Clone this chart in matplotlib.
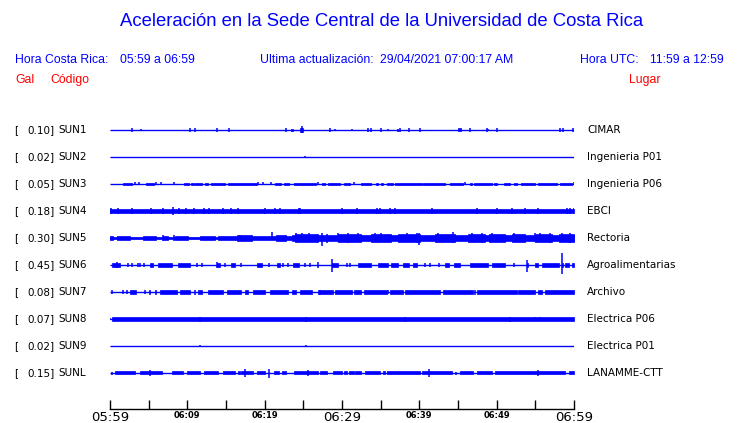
import matplotlib
matplotlib.use('Agg')
import matplotlib.pyplot as plt
from matplotlib.transforms import blended_transform_factory

BLUE = '#0000ff'
RED = '#ff0000'

codes = ['SUN1', 'SUN2', 'SUN3', 'SUN4', 'SUN5', 'SUN6', 'SUN7', 'SUN8', 'SUN9', 'SUNL']
gal = [0.10, 0.02, 0.05, 0.18, 0.30, 0.45, 0.08, 0.07, 0.02, 0.15]
places = ['CIMAR', 'Ingenieria P01', 'Ingenieria P06', 'EBCI', 'Rectoria',
          'Agroalimentarias', 'Archivo', 'Electrica P06', 'Electrica P01', 'LANAMME-CTT']

# time axis: minutes after 05:59
tick_min = [0, 5, 10, 15, 20, 25, 30, 35, 40, 45, 50, 55, 60]
tick_lbl = {0: '05:59', 10: '06:09', 20: '06:19', 30: '06:29', 40: '06:39', 50: '06:49', 60: '06:59'}

# bursts: (start min, end min, half amplitude px) ; spikes: (min, up px, down px)
sun1_bursts = [(23.4, 23.6, 1.0), (24.6, 25.0, 2.0), (45.0, 45.4, 1.5)]
sun1_spikes = [(2.9, 1.8, 1.8), (4.0, 1, 0.5), (10.4, 1.8, 1.8), (11.0, 1.8, 1.8), (13.9, 1.8, 1.8),
               (15.4, 1.8, 1.8), (22.8, 1.8, 1.8), (24.8, 3.5, 3.5), (28.5, 1.8, 1.8), (29.1, 1, 0),
               (31.3, 1, 0), (33.3, 1.8, 1.8), (33.8, 1.8, 1.8), (35.1, 1.8, 1.8), (35.9, 1, 1),
               (37.2, 0.5, 2), (37.5, 1.8, 1.8), (38.7, 1.8, 1.8), (40.1, 1.8, 1.8), (46.6, 1.8, 1.8),
               (48.7, 1.8, 1.8), (48.9, 1, 1), (50.0, 1.8, 1.8), (58.2, 1.8, 1.8), (58.6, 1.8, 1.8),
               (59.9, 1.8, 1.8)]

sun2_bursts = []
sun2_spikes = [(25.2, 1.0, 0.0)]

sun3_bursts = [(1.7, 2.9, 1.2), (4.7, 5.7, 1.2), (9.6, 10.2, 1.2), (10.5, 10.8, 1.2), (11.0, 11.9, 1.2),
               (12.3, 12.7, 1.2), (13.1, 14.9, 1.2), (15.2, 19.0, 1.2), (21.3, 22.1, 1.2), (22.5, 23.2, 1.2),
               (23.8, 26.6, 1.2), (27.4, 27.8, 1.2), (28.2, 29.7, 1.2), (30.3, 31.0, 1.2), (32.5, 33.8, 1.2),
               (34.4, 34.6, 1.2), (35.0, 35.3, 1.2), (35.8, 36.6, 1.2), (36.9, 40.3, 1.2), (40.5, 43.3, 1.2),
               (44.0, 45.6, 1.2), (46.6, 46.8, 1.2), (47.1, 49.4, 1.2), (49.7, 50.1, 1.2), (50.9, 51.7, 1.2),
               (52.3, 52.6, 1.2), (53.2, 55.0, 1.2), (55.4, 57.8, 1.2), (58.2, 59.7, 1.2)]
sun3_spikes = [(3.2, 1.5, 1.5), (3.7, 1.5, 1.5), (6.0, 1.5, 1.5), (6.6, 1.5, 1.5), (8.3, 1.5, 1.5),
               (19.2, 1.5, 1.5), (19.8, 1.5, 1.5), (20.8, 1.5, 1.5), (26.9, 1.5, 1.5), (31.5, 1.5, 1.5),
               (45.9, 1.5, 1.5), (60.0, 1.5, 1.5)]

sun4_bursts = [(0.0, 60.0, 1.7)]
sun4_spikes = [(0.1, 3, 3), (1.0, 3, 3), (2.8, 3, 3), (5.3, 3, 3), (6.8, 3, 3),
               (8.2, 3.5, 4.5), (8.9, 3, 3), (9.8, 3, 3), (10.9, 3, 3), (12.2, 3, 3),
               (12.8, 3, 3), (14.6, 3, 3), (15.7, 3, 3), (16.5, 3, 3), (20.0, 3, 3),
               (21.3, 3, 3), (22.0, 3, 3), (24.4, 3, 3), (24.6, 3, 3), (30.0, 3, 3),
               (32.0, 3.3, 3.3), (34.5, 3.3, 3.3), (34.9, 3, 3), (36.2, 3, 3), (36.9, 3, 3),
               (41.7, 3, 3), (47.4, 3, 3), (50.0, 3, 3), (52.0, 3, 3), (53.7, 3, 3),
               (55.3, 3, 3), (59.1, 3, 3), (59.5, 3, 3), (60.0, 3, 3)]

sun5_bursts = [(0.0, 16.2, 1.3), (0.0, 0.4, 2.0), (0.9, 2.6, 2.0), (4.3, 6.0, 2.0), (6.9, 7.5, 2.0),
               (8.4, 10.1, 2.0), (11.6, 13.6, 2.0), (14.0, 16.2, 2.0), (16.2, 23.5, 2.0),
               (16.4, 18.3, 2.7), (21.5, 22.8, 2.7), (23.5, 60.0, 3.0),
               (23.9, 26.9, 3.8), (29.5, 32.5, 4.0), (33.8, 36.4, 3.8), (37.3, 40.1, 3.8),
               (42.0, 44.6, 3.8), (46.3, 48.5, 4.0), (49.0, 51.1, 3.8), (52.0, 53.7, 3.8),
               (55.0, 57.1, 3.8), (58.0, 60.0, 4.0)]
sun5_spikes = [(6.9, 2.7, 2.7), (8.3, 2.7, 2.7), (16.8, 2.7, 2.7), (20.9, 6.0, 2.5), (24.1, 4.5, 4.5),
               (24.8, 4.5, 4.5), (25.7, 4.5, 4.5), (27.4, 5.0, 8.0), (28.0, 4.0, 5.0), (29.5, 4.5, 4.5),
               (30.8, 5.0, 5.0), (32.1, 4.5, 4.5), (34.3, 4.5, 4.5), (35.1, 4.5, 4.5), (38.4, 4.5, 4.5),
               (39.7, 5.0, 5.0), (39.9, 5.0, 6.7), (42.4, 4.5, 4.5), (44.4, 5.5, 5.5), (46.8, 4.5, 4.5),
               (48.1, 5.0, 5.0), (49.4, 4.5, 4.5), (52.2, 4.5, 4.5), (55.0, 4.5, 4.5), (55.6, 4.5, 4.5),
               (56.9, 5.0, 5.0), (58.4, 4.5, 4.5), (59.5, 5.0, 5.0)]

sun6_bursts = [(0.2, 1.3, 2.0), (5.2, 5.6, 2.0), (6.25, 8.0, 2.0), (8.8, 10.3, 2.0), (13.9, 14.2, 2.0),
               (15.7, 16.1, 2.0), (19.0, 19.6, 2.0), (21.6, 22.0, 2.0), (23.7, 24.4, 2.0), (28.7, 29.5, 2.0),
               (32.1, 33.8, 2.0), (34.7, 36.0, 2.0), (36.4, 37.3, 2.0), (37.9, 38.6, 2.0), (39.2, 39.7, 2.0),
               (43.3, 43.8, 2.0), (44.5, 45.3, 2.0), (46.6, 48.9, 2.0), (49.4, 51.1, 2.0), (53.9, 54.1, 2.0),
               (55.0, 55.4, 2.0), (55.8, 58.0, 2.0), (58.4, 58.6, 2.0), (58.8, 59.3, 2.0), (59.7, 60.0, 2.0)]
sun6_spikes = [(0.85, 3.0, 3.0), (2.3, 2, 2), (2.8, 2, 2), (3.6, 2, 2), (3.9, 2, 2), (4.4, 2, 2),
               (11.2, 2, 2), (11.9, 2, 2), (13.9, 3.0, 3.0), (14.9, 2, 2), (17.0, 2, 2), (20.5, 2, 2),
               (22.4, 2, 2), (23.0, 2, 2), (25.2, 2, 2), (25.9, 2, 2), (26.9, 3.0, 3.0), (28.7, 6.0, 6.7),
               (30.6, 2, 2), (31.0, 2, 2), (40.7, 2, 2), (41.4, 2, 2), (42.5, 2, 2), (52.2, 2, 2),
               (53.9, 5.0, 6.7), (58.5, 12.0, 9.0)]

sun7_bursts = [(2.6, 3.4, 1.7), (5.0, 5.2, 1.7), (5.8, 6.0, 1.7), (6.5, 8.6, 1.7), (9.05, 10.3, 1.7),
               (11.4, 11.85, 1.7), (12.7, 14.65, 1.7), (15.1, 17.0, 1.7), (17.5, 17.9, 1.7), (18.5, 20.0, 1.7),
               (20.7, 23.05, 1.7), (23.5, 24.1, 1.7), (24.6, 26.1, 1.7), (26.9, 28.9, 1.7), (29.1, 31.25, 1.7),
               (31.5, 32.5, 1.7), (32.8, 35.8, 1.7), (36.2, 37.9, 1.7), (38.1, 42.7, 1.7), (43.0, 47.0, 1.7),
               (47.4, 52.6, 1.7), (52.8, 55.0, 1.7), (55.3, 55.8, 1.7), (56.25, 60.0, 1.7)]
sun7_spikes = [(0.2, 1.7, 1.7), (1.7, 1.7, 1.7), (2.2, 1.7, 1.7), (4.5, 1.7, 1.7), (11.0, 2.5, 2.5),
               (27.1, 2.5, 2.5), (36.0, 2.2, 2.2), (47.2, 2.5, 2.5)]

sun8_bursts = [(0.3, 60.0, 1.7)]
sun8_spikes = [(0.0, 1.0, 1.0), (11.7, 1.7, 2.7), (25.4, 2.5, 2.5), (38.1, 1.7, 2.7), (51.7, 2.5, 2.5),
               (54.9, 2.5, 1.7), (55.6, 2.5, 1.7)]

sun9_bursts = []
sun9_spikes = [(11.6, 1.0, 0.0), (25.3, 0.8, 0.8)]

sunl_bursts = [(0.65, 3.2, 1.5), (3.9, 6.7, 1.5), (8.0, 9.5, 1.5), (9.9, 11.6, 1.5), (12.1, 14.0, 1.5),
               (14.65, 16.2, 1.5), (16.5, 16.8, 1.5), (17.0, 18.5, 1.5), (19.0, 20.0, 1.5), (21.25, 21.8, 1.5),
               (22.2, 22.8, 1.5), (23.8, 26.9, 1.5), (27.15, 28.0, 1.5), (28.9, 29.95, 1.5), (30.3, 30.6, 1.5),
               (30.95, 31.5, 1.5), (31.7, 32.5, 1.5), (33.0, 34.9, 1.5), (35.3, 35.6, 1.5), (35.8, 40.1, 1.5),
               (40.3, 44.2, 1.5), (45.3, 47.0, 1.5), (47.4, 49.35, 1.5), (49.8, 58.8, 1.5), (59.3, 60.0, 1.5)]
sunl_spikes = [(0.2, 1.5, 1.5), (5.2, 2.5, 2.5), (17.5, 4.0, 4.3), (20.5, 4.5, 4.5), (25.6, 3.3, 3.3),
               (41.2, 3.7, 3.7), (44.8, 1.5, 1.5), (55.4, 2.7, 2.7)]

bursts = [sun1_bursts, sun2_bursts, sun3_bursts, sun4_bursts, sun5_bursts,
          sun6_bursts, sun7_bursts, sun8_bursts, sun9_bursts, sunl_bursts]
spikes = [sun1_spikes, sun2_spikes, sun3_spikes, sun4_spikes, sun5_spikes,
          sun6_spikes, sun7_spikes, sun8_spikes, sun9_spikes, sunl_spikes]

W, H = 740, 423
PX = 1 / 27.0  # one pixel in trace units (traces are 27 px apart)

fig = plt.figure(figsize=(W / 100, H / 100), dpi=100)
ax = fig.add_axes([110 / W, 14 / H, 464 / W, (409 - 108.4) / H])

for i in range(len(codes)):
    ax.hlines(i, 0, 60, color=BLUE, lw=1)
    for s, e, a in bursts[i]:
        ax.fill_between([s, max(e, s + 0.13)], i - a * PX, i + a * PX,
                        color=BLUE, lw=0.5, edgecolor=BLUE)
    for t, up, dn in spikes[i]:
        ax.vlines(t, i - up * PX, i + dn * PX, color=BLUE, lw=1.1)

ax.set_xlim(0, 60)
ax.set_ylim(9 + 36 * PX, -0.8)
for side in ['top', 'left', 'right']:
    ax.spines[side].set_visible(False)
ax.spines['bottom'].set_linewidth(1)
ax.set_yticks([])
ax.set_xticks(tick_min)
ax.set_xticklabels([tick_lbl.get(m, '') for m in tick_min])
ax.tick_params(axis='x', direction='in', length=6.5, width=1, pad=1.5)
for m, lab in zip(tick_min, ax.get_xticklabels()):
    if m in (0, 30, 60):
        lab.set_fontsize(9.5)
    else:
        lab.set_fontsize(6)
        lab.set_fontweight('bold')

# labels beside the traces
tr = blended_transform_factory(fig.transFigure, ax.transData)
for i, (c, g, p) in enumerate(zip(codes, gal, places)):
    ax.text(14 / W, i, '[', transform=tr, fontsize=7.5, va='center', ha='left')
    ax.text(54.5 / W, i, f'{g:.2f}]', transform=tr, fontsize=7.5, va='center', ha='right')
    ax.text(58.5 / W, i, c, transform=tr, fontsize=7.5, va='center', ha='left')
    ax.text(587 / W, i, p, transform=tr, fontsize=7.5, va='center', ha='left')

# header
hf = 'Liberation Sans'
fig.text(381.5 / W, 1 - 22 / H, 'Aceleración en la Sede Central de la Universidad de Costa Rica',
         ha='center', va='center', color=BLUE, fontsize=13.3, family=hf)
fig.text(15 / W, 1 - 60 / H, 'Hora Costa Rica:', ha='left', va='center', color=BLUE, fontsize=8.8, family=hf)
fig.text(120 / W, 1 - 60 / H, '05:59 a 06:59', ha='left', va='center', color=BLUE, fontsize=8.8, family=hf)
fig.text(260 / W, 1 - 60 / H, 'Ultima actualización:', ha='left', va='center', color=BLUE, fontsize=8.8, family=hf)
fig.text(380 / W, 1 - 60 / H, '29/04/2021 07:00:17 AM', ha='left', va='center', color=BLUE, fontsize=8.8, family=hf)
fig.text(580 / W, 1 - 60 / H, 'Hora UTC:', ha='left', va='center', color=BLUE, fontsize=8.8, family=hf)
fig.text(724 / W, 1 - 60 / H, '11:59 a 12:59', ha='right', va='center', color=BLUE, fontsize=8.8, family=hf)
fig.text(15 / W, 1 - 80 / H, 'Gal', ha='left', va='center', color=RED, fontsize=8.8, family=hf)
fig.text(50 / W, 1 - 80 / H, 'Código', ha='left', va='center', color=RED, fontsize=8.8, family=hf)
fig.text(629 / W, 1 - 80 / H, 'Lugar', ha='left', va='center', color=RED, fontsize=8.8, family=hf)

fig.savefig('out.png', dpi=100)
